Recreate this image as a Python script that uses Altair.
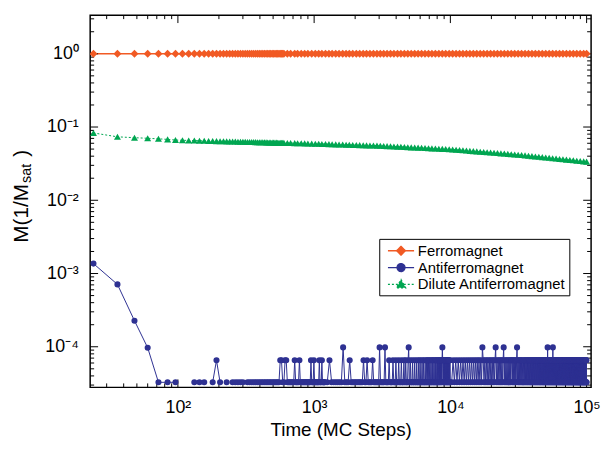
import altair as alt
import pandas as pd

FONT = "Liberation Sans"
SERIES = ["Ferromagnet", "Antiferromagnet", "Dilute Antiferromagnet"]
COLORS = ["#F15A24", "#2E3192", "#00A651"]

# sample times (MC steps) for ferromagnet and dilute antiferromagnet
TIMES = list(range(24, 612, 12)) + [
    636, 672, 720, 756, 804, 852, 900, 960, 1020,
    1080, 1140, 1212, 1284, 1356, 1440, 1524, 1620, 1716, 1812,
    1920, 2040, 2160, 2292, 2424, 2568, 2724, 2892, 3060, 3240,
    3432, 3636, 3852, 4092, 4332, 4596, 4872, 5160, 5472, 5796,
    6144, 6516, 6912, 7320, 7764, 8232, 8724, 9240, 9804, 10392,
    11016, 11676, 12372, 13116, 13908, 14736, 15624, 16560, 17556, 18612,
    19728, 20916, 22164, 23496, 24900, 26400, 27984, 29664, 31440, 33324,
    35328, 37440, 39696, 42072, 44604, 47280, 50112, 53124, 56304, 59688,
    63264, 67056, 71088, 75348, 79872, 84660, 89748, 95136, 99996]

FERRO_M = [1.0] * len(TIMES)

DILUTE_M = [
    0.0830, 0.0735, 0.0715, 0.0702, 0.0690, 0.0678, 0.0665, 0.0659, 0.0656, 0.0653,
    0.0650, 0.0648, 0.0646, 0.0644, 0.0642, 0.0640, 0.0638, 0.0637, 0.0635, 0.0634,
    0.0633, 0.0631, 0.0630, 0.0629, 0.0628, 0.0626, 0.0625, 0.0624, 0.0623, 0.0622,
    0.0621, 0.0620, 0.0619, 0.0619, 0.0618, 0.0617, 0.0616, 0.0615, 0.0615, 0.0614,
    0.0613, 0.0612, 0.0612, 0.0611, 0.0610, 0.0610, 0.0609, 0.0608, 0.0608,
    0.0606, 0.0605, 0.0603, 0.0601, 0.0599, 0.0598, 0.0596, 0.0594, 0.0592,
    0.0590, 0.0588, 0.0586, 0.0584, 0.0582, 0.0580, 0.0578, 0.0576, 0.0574, 0.0572,
    0.0570, 0.0568, 0.0566, 0.0564, 0.0562, 0.0561, 0.0559, 0.0557, 0.0555, 0.0552,
    0.0549, 0.0546, 0.0543, 0.0540, 0.0537, 0.0534, 0.0531, 0.0528, 0.0525, 0.0523,
    0.0520, 0.0517, 0.0514, 0.0511, 0.0508, 0.0506, 0.0503, 0.0500, 0.0497, 0.0494,
    0.0490, 0.0485, 0.0481, 0.0477, 0.0473, 0.0469, 0.0465, 0.0461, 0.0457, 0.0453,
    0.0449, 0.0445, 0.0441, 0.0437, 0.0434, 0.0430, 0.0426, 0.0422, 0.0419, 0.0414,
    0.0410, 0.0405, 0.0401, 0.0396, 0.0392, 0.0388, 0.0384, 0.0380, 0.0375, 0.0371,
    0.0367, 0.0363, 0.0359, 0.0355, 0.0351, 0.0347, 0.0343, 0.0340, 0.0337]

# antiferromagnet: first points, then levels in units of AF_UNIT (0 = zero, not drawn)
AF_EARLY_T = [24, 36, 48, 60]
AF_EARLY_M = [1.365e-3, 7.1e-4, 2.27e-4, 9.7e-5]
AF_UNIT = 3.27e-5
AF_TIMES_A = list(range(72, 1212, 12))
AF_CODES_A = ("111" "00" "111" "0" "1" "2" "1" "0" "1" "0"
              "111110111" "11111111111111111" "221122" "1111111" "211112"
              "1111111111111" "21112" "1111111" "21112" "11111")
AF_TIMES_B = list(range(1248, 10032, 48))
AF_CODES_B = ("1211111131" "1121111111" "1121121111" "2111111311" "1113111121"
              "1112111211" "1211121112" "1121112311" "2111211121" "1121112112"
              "1112112111" "2112112121" "1211211212" "1121121211" "2121121212"
              "1212123212" "1212121212" "1212121212" "121")
AF_TIMES_C = list(range(10224, 100224, 240))
AF_CODES_C = ("1212121212121212121212121"
              "2121321212121212121212312"
              "1212121212312121212121212"
              "2121212121231212121212121"
              "1212121212121212121212121"
              "2121212121212121212121212"
              "1212121212121212121212131"
              "2121212121212121213121212"
              "1212121212121212121212121"
              "2121212121212121212121212"
              "1212121212121212121212121"
              "2121212121212121212121212"
              "1212121212121212121212121"
              "2121212121212121212121212"
              "1212121212121212121212121")

X_MAJOR = [100, 1000, 10000, 100000]
X_MINOR = [30, 40, 50, 60, 70, 80, 90, 200, 300, 400, 500, 600, 700, 800, 900,
           2000, 3000, 4000, 5000, 6000, 7000, 8000, 9000,
           20000, 30000, 40000, 50000, 60000, 70000, 80000, 90000]
Y_MAJOR = [1e-4, 1e-3, 1e-2, 1e-1, 1]
Y_MINOR = [3e-5, 4e-5, 5e-5, 6e-5, 7e-5, 8e-5, 9e-5,
           2e-4, 3e-4, 4e-4, 5e-4, 6e-4, 7e-4, 8e-4, 9e-4,
           2e-3, 3e-3, 4e-3, 5e-3, 6e-3, 7e-3, 8e-3, 9e-3,
           2e-2, 3e-2, 4e-2, 5e-2, 6e-2, 7e-2, 8e-2, 9e-2,
           0.2, 0.3, 0.4, 0.5, 0.6, 0.7, 0.8, 0.9, 2, 3]

W, H = 506, 376
XS = alt.Scale(type="log", domain=[22.7, 107900], nice=False)
YS = alt.Scale(type="log", domain=[2.79e-5, 3.37], nice=False)

af_t = list(AF_EARLY_T)
af_m = list(AF_EARLY_M)
for times, codes in ((AF_TIMES_A, AF_CODES_A), (AF_TIMES_B, AF_CODES_B), (AF_TIMES_C, AF_CODES_C)):
    for t, c in zip(times, codes):
        af_t.append(t)
        af_m.append(int(c) * AF_UNIT if c != "0" else None)

ferro_df = pd.DataFrame({"t": TIMES, "m": FERRO_M})
dilute_df = pd.DataFrame({"t": TIMES, "m": DILUTE_M})
af_df = pd.DataFrame({"t": af_t, "m": af_m})

XAX = alt.Axis(values=X_MAJOR,
               labelExpr="['','10¹','10²','10³','10⁴','10⁵'][round(log(datum.value)/LN10)]",
               ticks=False, domain=False, grid=False, labelPadding=11, labelFlush=False,
               labelFont=FONT, labelFontSize=18, labelColor="black",
               title="Time (MC Steps)", titleFont=FONT, titleFontSize=19,
               titleFontWeight="normal", titleColor="black",
               titleBaseline="alphabetic", titleY=49)
YAX = alt.Axis(values=Y_MAJOR,
               labelExpr="['10⁰','10⁻¹','10⁻²','10⁻³','10⁻⁴'][-round(log(datum.value)/LN10)]",
               ticks=False, domain=False, grid=False, labelPadding=12,
               labelFont=FONT, labelFontSize=18, labelColor="black", title=None)


def X(field):
    return alt.X(field, scale=XS, axis=XAX)


def Y(field):
    return alt.Y(field, scale=YS, axis=YAX)


def xy(ch):
    return ch.encode(x=X("t:Q"), y=Y("m:Q"))


ferro_line = xy(alt.Chart(ferro_df).mark_line(color=COLORS[0], strokeWidth=1.5, clip=True))
ferro_pts = xy(alt.Chart(ferro_df).mark_point(shape="diamond", filled=True, size=64, opacity=1,
                                              color=COLORS[0], clip=True))
dil_line = xy(alt.Chart(dilute_df).mark_line(color=COLORS[2], strokeWidth=1, strokeDash=[2, 2], clip=True))
dil_pts = xy(alt.Chart(dilute_df).mark_point(shape="triangle-up", filled=True, size=50, opacity=1,
                                             color=COLORS[2], clip=True))
af_line = xy(alt.Chart(af_df).mark_line(color=COLORS[1], strokeWidth=1, clip=True,
                                        invalid="break-paths-filter-domains"))
af_pts = xy(alt.Chart(af_df).mark_point(shape="circle", filled=True, size=38, opacity=1,
                                        color=COLORS[1], clip=True))


# inward ticks on all four sides
def xticks(vals, length):
    d = pd.DataFrame({"v": vals})
    b = alt.Chart(d).mark_rule(color="black", strokeWidth=1).encode(
        x=X("v:Q"), y=alt.value(H), y2=alt.value(H - length))
    t = alt.Chart(d).mark_rule(color="black", strokeWidth=1).encode(
        x=X("v:Q"), y=alt.value(0), y2=alt.value(length))
    return [b, t]


def yticks(vals, length):
    d = pd.DataFrame({"v": vals})
    l = alt.Chart(d).mark_rule(color="black", strokeWidth=1).encode(
        y=Y("v:Q"), x=alt.value(0), x2=alt.value(length))
    r = alt.Chart(d).mark_rule(color="black", strokeWidth=1).encode(
        y=Y("v:Q"), x=alt.value(W), x2=alt.value(W - length))
    return [l, r]


tick_layers = xticks(X_MAJOR, 8) + xticks(X_MINOR, 4) + yticks(Y_MAJOR, 8) + yticks(Y_MINOR, 4)

# legend (native), from an invisible clipped layer
PATHS = ["M-1.65,0L1.65,0M0,-0.56L0.56,0L0,0.56L-0.56,0Z",
         "M-1.65,0L1.65,0M0.5,0A0.5,0.5,0,1,1,-0.5,0A0.5,0.5,0,1,1,0.5,0Z",
         "M-1.65,0L1.65,0M0,-0.6L0.58,0.42L-0.58,0.42Z"]
LEG = alt.Legend(title=None, orient="none", legendX=292, legendY=226, padding=3,
                 strokeColor="black", fillColor="white", cornerRadius=0,
                 labelFont=FONT, labelFontSize=15, labelColor="black",
                 symbolSize=256, symbolStrokeWidth=1.3, symbolOpacity=1, rowPadding=0,
                 labelOffset=8, symbolOffset=10)
leg_df = pd.DataFrame({"series": SERIES, "t": [1, 1, 1], "m": [1, 1, 1]})
legend_layer = alt.Chart(leg_df).mark_point(filled=True, clip=True, size=256, opacity=1).encode(
    x=X("t:Q"),
    y=Y("m:Q"),
    fill=alt.Fill("series:N", scale=alt.Scale(domain=SERIES, range=COLORS), legend=LEG),
    stroke=alt.Stroke("series:N", scale=alt.Scale(domain=SERIES, range=COLORS), legend=LEG),
    shape=alt.Shape("series:N", scale=alt.Scale(domain=SERIES, range=PATHS), legend=LEG),
    strokeDash=alt.StrokeDash("series:N", scale=alt.Scale(domain=SERIES, range=[[1, 0], [1, 0], [2, 2]]),
                              legend=LEG),
)

# y title with subscript
one = pd.DataFrame({"a": [0]})


def ttext(txt, x, y, size):
    return alt.Chart(one).mark_text(text=txt, angle=270, align="left", baseline="alphabetic",
                                    font=FONT, fontSize=size, color="black").encode(
        x=alt.value(x), y=alt.value(y))


ytitle = [ttext("M(1/M", -63, 230, 21), ttext("sat", -60, 169.5, 14.5), ttext(")", -63, 143, 21)]

chart = alt.layer(ferro_line, *tick_layers, dil_line, dil_pts, ferro_pts, af_line, af_pts,
                  legend_layer, *ytitle).properties(
    width=W, height=H,
    autosize=alt.AutoSizeParams(type="none"),
    padding={"left": 83, "top": 5, "right": 10, "bottom": 56},
).configure_view(stroke="black", strokeWidth=1.5)

chart.save("out.html", embed_options={"renderer": "svg", "actions": False})
